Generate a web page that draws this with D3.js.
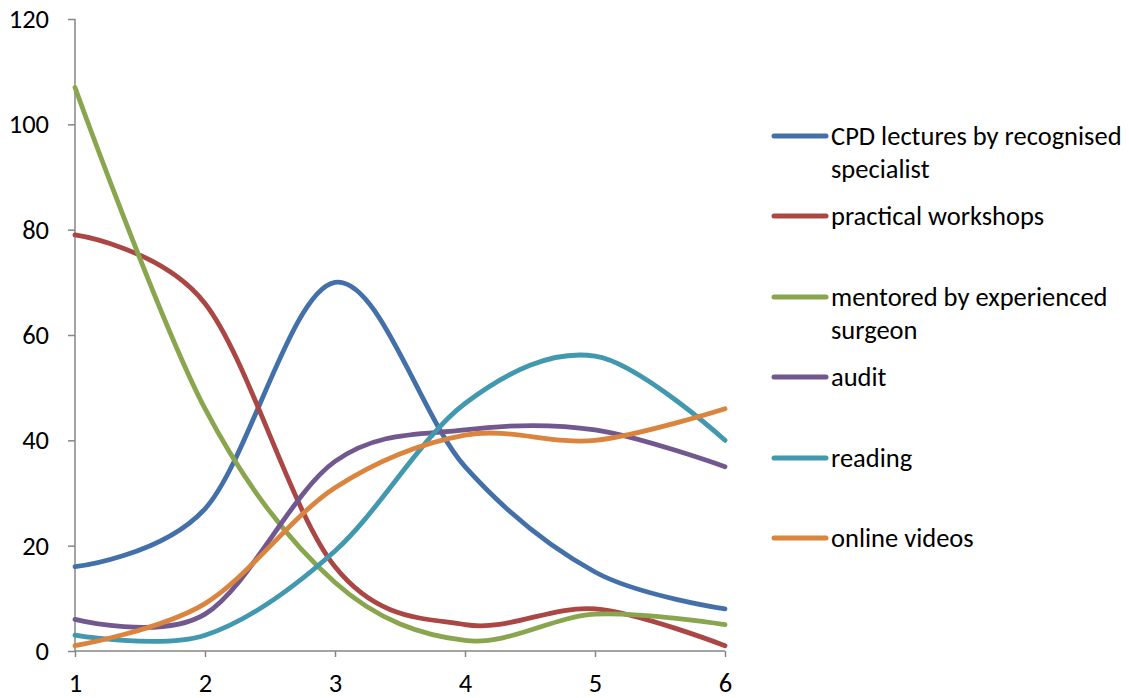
<!DOCTYPE html>
<html><head><meta charset="utf-8">
<script src="https://cdn.jsdelivr.net/npm/d3@7"></script>
<style>body{margin:0;background:#fff}svg{display:block}</style>
</head><body>
<script>
const xValues = [1, 2, 3, 4, 5, 6];
const seriesNames = [
  ["CPD lectures by recognised", "specialist"],
  ["practical workshops"],
  ["mentored by experienced", "surgeon"],
  ["audit"],
  ["reading"],
  ["online videos"]
];
const cpd = [16, 27, 70, 35, 15, 8];
const practical = [79, 66, 16, 5, 8, 1];
const mentored = [107, 46, 13, 2, 7, 5];
const audit = [6, 7, 36, 42, 42, 35];
const reading = [3, 3, 19, 47, 56, 40];
const online = [1, 9, 31, 41, 40, 46];
const yTicks = [0, 20, 40, 60, 80, 100, 120];
const colors = ["#4470A9", "#AA4643", "#89A54E", "#71588F", "#4198AF", "#DB843D"];

const seriesValues = [cpd, practical, mentored, audit, reading, online];

const W = 1129, H = 698;
const svg = d3.select("body").append("svg").attr("width", W).attr("height", H);
const font = "Carlito, Calibri, Lato, sans-serif";
const fs = "26.5px";

const x = d3.scaleLinear().domain([1, 6]).range([75, 725]);
const y = d3.scaleLinear().domain([0, 120]).range([651, 19]);

// axes
const yAxis = d3.axisLeft(y).tickValues(yTicks).tickSize(7).tickPadding(19);
const gy = svg.append("g").attr("transform", "translate(75,0)").call(yAxis);
const xAxis = d3.axisBottom(x).tickValues(xValues).tickFormat(d3.format("d")).tickSize(6).tickPadding(16);
const gx = svg.append("g").attr("transform", "translate(0,651)").call(xAxis);
[gy, gx].forEach(g => {
  g.selectAll("path.domain").attr("stroke", "#868686").attr("stroke-width", 1.5);
  g.selectAll(".tick line").attr("stroke", "#868686").attr("stroke-width", 1.5);
  g.selectAll(".tick text").attr("fill", "#000").style("font-family", font).style("font-size", fs);
});
gy.selectAll("path.domain").attr("d", "M0,651V19");
gx.selectAll("path.domain").attr("d", "M75,0H725");

const line = d3.line()
  .x((d, i) => x(xValues[i]))
  .y(d => y(d))
  .curve(d3.curveCardinal.tension(0));

seriesValues.forEach((vals, k) => {
  svg.append("path").datum(vals)
    .attr("d", line)
    .attr("fill", "none")
    .attr("stroke", colors[k])
    .attr("stroke-width", 4.8)
    .attr("stroke-linecap", "round")
    .attr("stroke-linejoin", "round");
});

// legend
const legendY = [136, 216, 297, 377, 458, 538];
seriesNames.forEach((lines, k) => {
  const g = svg.append("g").attr("transform", `translate(0,${legendY[k]})`);
  g.append("line").attr("x1", 774).attr("x2", 826).attr("y1", 0).attr("y2", 0)
    .attr("stroke", colors[k]).attr("stroke-width", 5).attr("stroke-linecap", "round");
  lines.forEach((t, j) => {
    g.append("text").attr("x", 831).attr("y", j * 33).attr("dy", "0.35em")
      .style("font-family", font).style("font-size", fs).attr("fill", "#000").text(t);
  });
});
</script>
</body></html>
